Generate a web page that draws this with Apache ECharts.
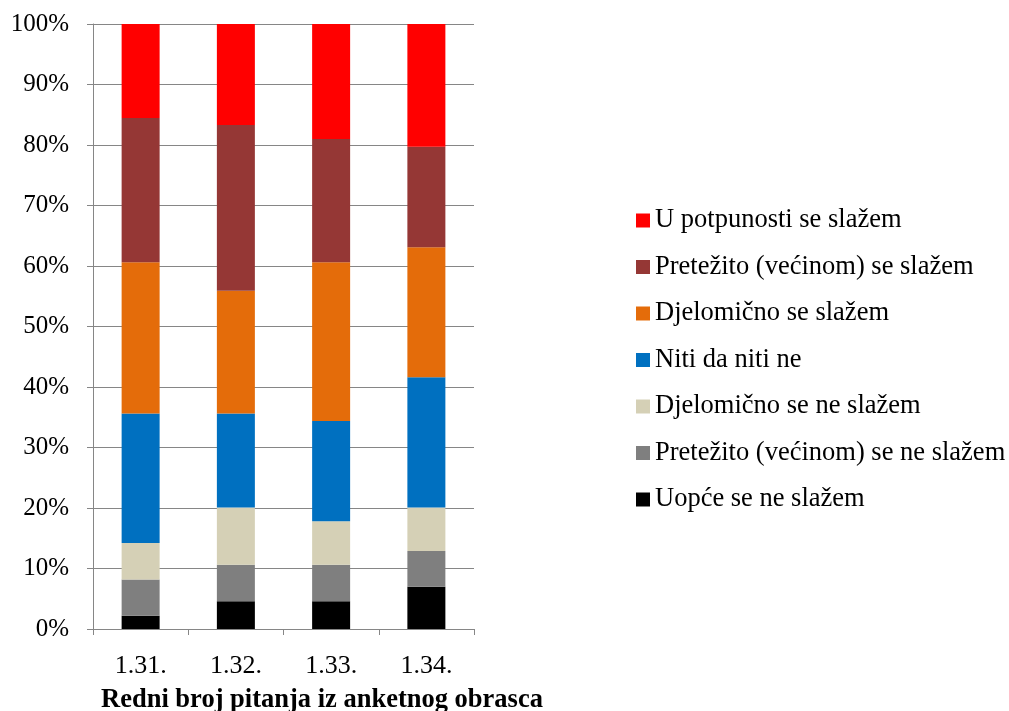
<!DOCTYPE html>
<html>
<head>
<meta charset="utf-8">
<script src="https://cdn.jsdelivr.net/npm/echarts@6/dist/echarts.min.js"></script>
<style>html,body{margin:0;padding:0;background:#fff;}#c{width:1009px;height:711px;}</style>
</head>
<body>
<div id="c"></div>
<script>
var categories = ['1.31.', '1.32.', '1.33.', '1.34.'];
var yTickLabels = ['0%', '10%', '20%', '30%', '40%', '50%', '60%', '70%', '80%', '90%', '100%'];
var seriesNames = ['Uopće se ne slažem', 'Pretežito (većinom) se ne slažem', 'Djelomično se ne slažem', 'Niti da niti ne', 'Djelomično se slažem', 'Pretežito (većinom) se slažem', 'U potpunosti se slažem'];
var uopce = [2.2, 4.6, 4.6, 7.0];
var pretezitoNe = [6.0, 6.0, 6.0, 5.9];
var djelomicnoNe = [6.0, 9.5, 7.2, 7.2];
var niti = [21.4, 15.5, 16.6, 21.5];
var djelomicno = [25.0, 20.3, 26.2, 21.5];
var pretezito = [23.85, 27.4, 20.4, 16.6];
var potpuno = [15.55, 16.7, 19.0, 20.3];
var colors = ['#000000', '#7F7F7F', '#D5D0B6', '#0070C0', '#E46C0A', '#953735', '#FF0000'];
var values = [uopce, pretezitoNe, djelomicnoNe, niti, djelomicno, pretezito, potpuno];

var font = "'Liberation Serif', 'Times New Roman', 'DejaVu Serif', serif";
var series = seriesNames.map(function (n, i) {
  return {
    name: n, type: 'bar', stack: 'total', barWidth: 38,
    itemStyle: { color: colors[i] },
    data: values[i]
  };
});

var chart = echarts.init(document.getElementById('c'), null, { renderer: 'canvas' });
chart.setOption({
  animation: false,
  backgroundColor: '#fff',
  title: {
    text: 'Redni broj pitanja iz anketnog obrasca',
    left: 96, top: 682,
    textStyle: { fontFamily: font, fontWeight: 'bold', fontSize: 26.5, color: '#000' }
  },
  grid: { left: 93, right: 535, top: 24, bottom: 82, containLabel: false },
  legend: {
    orient: 'vertical', left: 631, top: 202,
    itemWidth: 14, itemHeight: 14, itemGap: 19.5,
    icon: 'rect',
    data: seriesNames.slice().reverse(),
    textStyle: { fontFamily: font, fontSize: 26.5, color: '#000', lineHeight: 26 }
  },
  xAxis: {
    type: 'category', data: categories,
    axisLine: { show: true, lineStyle: { color: '#868686', width: 1 } },
    axisTick: { show: true, alignWithLabel: false, length: 6, lineStyle: { color: '#868686' } },
    axisLabel: { fontFamily: font, fontSize: 26, color: '#000', margin: 24 }
  },
  yAxis: {
    type: 'value', min: 0, max: 100, interval: 10,
    axisLine: { show: true, lineStyle: { color: '#868686', width: 1 } },
    axisTick: { show: true, length: 6, lineStyle: { color: '#868686' } },
    splitLine: { show: true, lineStyle: { color: '#868686', width: 1 } },
    axisLabel: {
      fontFamily: font, fontSize: 25, color: '#000', margin: 24,
      formatter: function (v) { return yTickLabels[Math.round(v / 10)]; }
    }
  },
  series: series
});
</script>
</body>
</html>
